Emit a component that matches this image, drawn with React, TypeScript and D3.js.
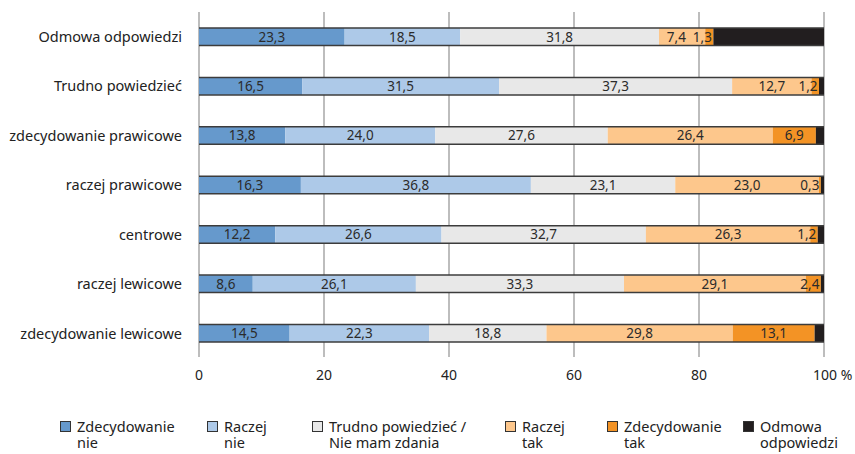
import React from "react";
import * as d3 from "d3";

const categories = [
  "Odmowa odpowiedzi",
  "Trudno powiedzieć",
  "zdecydowanie prawicowe",
  "raczej prawicowe",
  "centrowe",
  "raczej lewicowe",
  "zdecydowanie lewicowe",
];

const seriesNames = [
  "Zdecydowanie\nnie",
  "Raczej\nnie",
  "Trudno powiedzieć /\nNie mam zdania",
  "Raczej\ntak",
  "Zdecydowanie\ntak",
  "Odmowa\nodpowiedzi",
];

const zdecydowanieNie = [23.3, 16.5, 13.8, 16.3, 12.2, 8.6, 14.5];
const raczejNie = [18.5, 31.5, 24.0, 36.8, 26.6, 26.1, 22.3];
const trudno = [31.8, 37.3, 27.6, 23.1, 32.7, 33.3, 18.8];
const raczejTak = [7.4, 12.7, 26.4, 23.0, 26.3, 29.1, 29.8];
const zdecydowanieTak = [1.3, 1.2, 6.9, 0.3, 1.2, 2.4, 13.1];
const odmowa = [17.7, 0.8, 1.3, 0.5, 1.0, 0.5, 1.5];
const labeledSeries = [true, true, true, true, true, false];

const xTicks = [0, 20, 40, 60, 80, 100];

const colors = ["#6699cc", "#adc9e8", "#e8e8e8", "#fdc78c", "#f39325", "#221e1f"];
const legendX = [60, 207, 312, 505, 607, 743];

const W = 855;
const H = 454;
const FONT = "'Noto Sans', sans-serif";
const LABEL_FS = 13.5;
const LABEL_W = 21; // approx width of a "dd,d" label

export default function App() {
  const series = [zdecydowanieNie, raczejNie, trudno, raczejTak, zdecydowanieTak, odmowa];
  const x = d3.scaleLinear().domain([0, 100]).range([199, 824]);
  const y = d3
    .scaleBand<string>()
    .domain(categories)
    .range([12, 358])
    .paddingInner(0.646)
    .paddingOuter(0.323);
  const bh = y.bandwidth();

  const fmt = (v: number) => v.toFixed(1).replace(".", ",");

  return (
    <svg width={W} height={H} style={{ position: "absolute", left: 0, top: 0 }} fontFamily={FONT}>
      <rect width={W} height={H} fill="#fff" />
      {xTicks.map((t) => (
        <line key={t} x1={x(t)} x2={x(t)} y1={12} y2={357} stroke="#bdbdbd" strokeWidth={2} />
      ))}
      {categories.map((c, i) => {
        let acc = 0;
        const y0 = y(c)!;
        // compute label positions (center of label) with collision avoidance
        const segs: { x0: number; x1: number; v: number; k: number }[] = [];
        let a = 0;
        series.forEach((s, k) => {
          const x0 = x(a);
          a += s[i];
          segs.push({ x0, x1: x(a), v: s[i], k });
        });
        const labels = segs
          .filter((s) => labeledSeries[s.k])
          .map((s) => {
            const w = s.x1 - s.x0;
            const small = w < 26;
            const cx = small ? s.x1 - 0.5 - LABEL_W / 2 : (s.x0 + s.x1) / 2;
            return { ...s, cx };
          });
        for (let j = labels.length - 2; j >= 0; j--) {
          const right = labels[j].cx + LABEL_W / 2;
          const nextLeft = labels[j + 1].cx - LABEL_W / 2;
          if (right > nextLeft - 5) labels[j].cx -= right - (nextLeft - 5);
        }
        return (
          <g key={c}>
            {segs.map((s) => (
              <rect key={s.k} x={s.x0} y={y0} width={s.x1 - s.x0} height={bh} fill={colors[s.k]} />
            ))}
            <line x1={x(0)} x2={x(a)} y1={y0} y2={y0} stroke="#3c3c3c" strokeWidth={1.5} />
            <line x1={x(0)} x2={x(a)} y1={y0 + bh} y2={y0 + bh} stroke="#3c3c3c" strokeWidth={1.5} />
            {labels.map((l) => (
              <text
                key={"t" + l.k}
                x={l.cx}
                y={y0 + bh / 2}
                dy="0.36em"
                textAnchor="middle"
                fontSize={LABEL_FS}
                fill="#2b2b2b"
              >
                {fmt(l.v)}
              </text>
            ))}
            <text
              x={182}
              y={y0 + bh / 2}
              dy="0.36em"
              textAnchor="end"
              fontSize={14.5}
              fill="#222"
            >
              {c}
            </text>
          </g>
        );
      })}
      {xTicks.map((t) => (
        <text
          key={"xt" + t}
          x={t === 100 ? x(t) - 11 : x(t)}
          y={375}
          dy="0.36em"
          textAnchor={t === 100 ? "start" : "middle"}
          fontSize={14}
          fill="#222"
        >
          {t === 100 ? "100 %" : String(t)}
        </text>
      ))}
      {seriesNames.map((n, k) => {
        const lines = n.split("\n");
        const lx = legendX[k];
        return (
          <g key={"lg" + k}>
            <rect x={lx + 0.5} y={421.5} width={10} height={10} fill={colors[k]} stroke="#333" strokeWidth={1} />
            <text x={lx + 17} y={432} fontSize={14.5} fill="#222">
              {lines.map((l, j) => (
                <tspan key={j} x={lx + 17} dy={j === 0 ? 0 : 16}>
                  {l}
                </tspan>
              ))}
            </text>
          </g>
        );
      })}
    </svg>
  );
}
